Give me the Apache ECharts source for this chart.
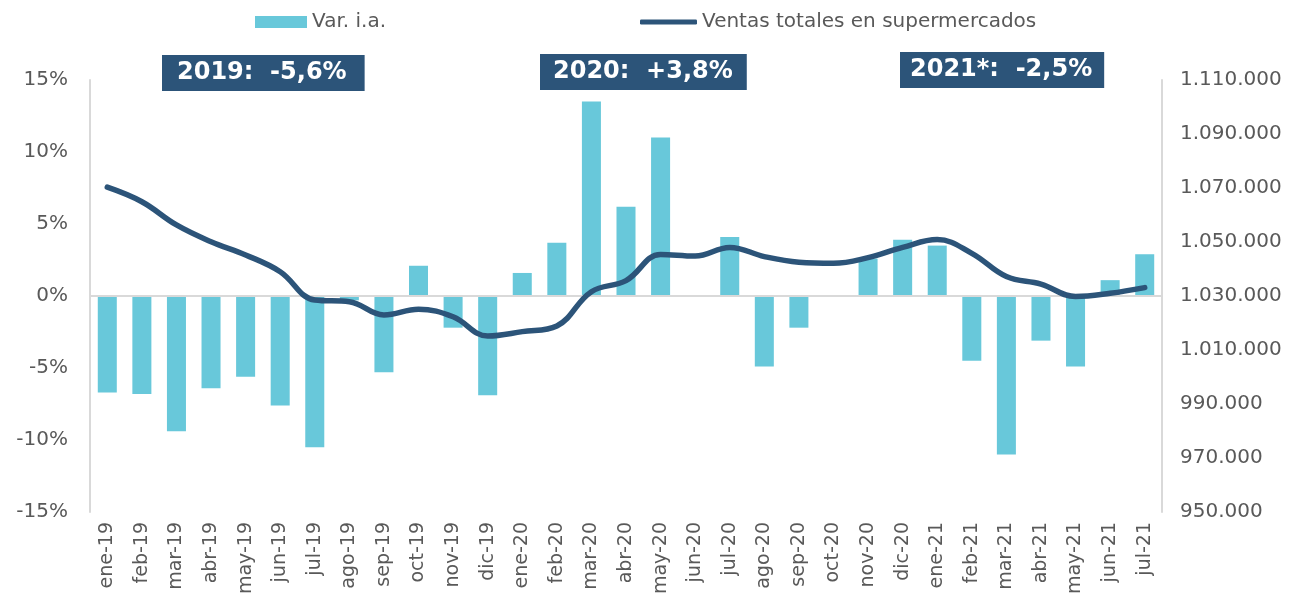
<!DOCTYPE html>
<html>
<head>
<meta charset="utf-8">
<script src="https://cdn.jsdelivr.net/npm/echarts@6/dist/echarts.min.js"></script>
<style>
  html, body { margin: 0; padding: 0; background: #fff; }
  #chart { width: 1293px; height: 607px; }
</style>
</head>
<body>
<div id="chart"></div>
<script>
// meses
const months = ['ene-19', 'feb-19', 'mar-19', 'abr-19', 'may-19', 'jun-19', 'jul-19', 'ago-19', 'sep-19', 'oct-19', 'nov-19', 'dic-19',
  'ene-20', 'feb-20', 'mar-20', 'abr-20', 'may-20', 'jun-20', 'jul-20', 'ago-20', 'sep-20', 'oct-20', 'nov-20', 'dic-20',
  'ene-21', 'feb-21', 'mar-21', 'abr-21', 'may-21', 'jun-21', 'jul-21']

// Var. i.a. (%)
const varIA = [-6.7, -6.8, -9.4, -6.4, -5.6, -7.6, -10.5, -0.3, -5.3, 2.1, -2.2, -6.9,
  1.6, 3.7, 13.5, 6.2, 11.0, 0.0, 4.1, -4.9, -2.2, 0.0, 2.6, 3.9,
  3.5, -4.5, -11.0, -3.1, -4.9, 1.1, 2.9]

// Ventas totales en supermercados
const ventas = [1070300, 1064900, 1056300, 1050100, 1045200, 1039000, 1028500, 1027900, 1023000, 1025100, 1022300, 1015200,
  1016800, 1018900, 1031600, 1035700, 1045400, 1044800, 1048000, 1044600, 1042500, 1042100, 1044200, 1048000,
  1050900, 1045800, 1037200, 1034400, 1029800, 1031000, 1033100]

// recuadros anuales
const yearNotes = ['2019:  -5,6%', '2020:  +3,8%', '2021*:  -2,5%']

const gray = '#595959'
const navy = '#2c5479'
const cyan = '#68c8da'
const font = 'DejaVu Sans'

const fmtMiles = v => String(v).replace(/\B(?=(\d{3})+(?!\d))/g, '.')

const noteLeft = [162, 540, 900]
const noteTop = [55, 54, 52]
const notePad = [[6, 18, 6, 15], [6, 14, 6, 13], [6, 12, 6, 10]]

const chart = echarts.init(document.getElementById('chart'))

const option = {
  animation: false,
  textStyle: { fontFamily: font },
  title: yearNotes.map((t, i) => ({
    text: t,
    left: noteLeft[i],
    top: noteTop[i],
    padding: notePad[i],
    backgroundColor: navy,
    textStyle: { color: '#fff', fontSize: 24, fontWeight: 'bold', fontFamily: font }
  })),
  // dos leyendas: barra y línea con iconos distintos
  legend: [
    {
      top: 12,
      left: 255,
      padding: 0,
      itemGap: 5,
      itemWidth: 52,
      itemHeight: 12,
      textStyle: { color: gray, fontSize: 20, fontFamily: font },
      data: [{ name: 'Var. i.a.', icon: 'rect' }]
    },
    {
      top: 12,
      left: 640,
      padding: 0,
      itemWidth: 57,
      itemHeight: 5,
      textStyle: { color: gray, fontSize: 20, fontFamily: font },
      data: [{ name: 'Ventas totales en supermercados', icon: 'roundRect' }]
    }
  ],
  grid: { left: 90, right: 131, top: 80, bottom: 95 },
  xAxis: {
    type: 'category',
    data: months,
    axisLine: { show: false, onZero: false },
    axisTick: { show: false },
    axisLabel: { rotate: 90, color: gray, fontSize: 19, margin: 10, interval: 0 }
  },
  yAxis: [
    {
      type: 'value',
      min: -15,
      max: 15,
      interval: 5,
      axisLine: { show: true, lineStyle: { color: '#d9d9d9', width: 2 } },
      axisTick: { show: false },
      splitLine: { show: false },
      axisLabel: { color: gray, fontSize: 20, margin: 22, formatter: '{value}%' }
    },
    {
      type: 'value',
      min: 950000,
      max: 1110000,
      interval: 20000,
      axisLine: { show: true, lineStyle: { color: '#d9d9d9', width: 2 } },
      axisTick: { show: false },
      splitLine: { show: false },
      axisLabel: { color: gray, fontSize: 20, margin: 18, formatter: fmtMiles }
    }
  ],
  series: [
    {
      name: 'Var. i.a.',
      type: 'bar',
      data: varIA,
      barWidth: '55%',
      itemStyle: { color: cyan },
      markLine: {
        silent: true,
        symbol: 'none',
        label: { show: false },
        lineStyle: { color: '#d9d9d9', width: 2, type: 'solid' },
        data: [{ yAxis: 0 }]
      }
    },
    {
      name: 'Ventas totales en supermercados',
      type: 'line',
      yAxisIndex: 1,
      data: ventas,
      smooth: 0.4,
      symbol: 'none',
      lineStyle: { color: navy, width: 5.5, cap: 'round' },
      itemStyle: { color: navy },
      z: 5
    }
  ]
}

chart.setOption(option)
</script>
</body>
</html>
